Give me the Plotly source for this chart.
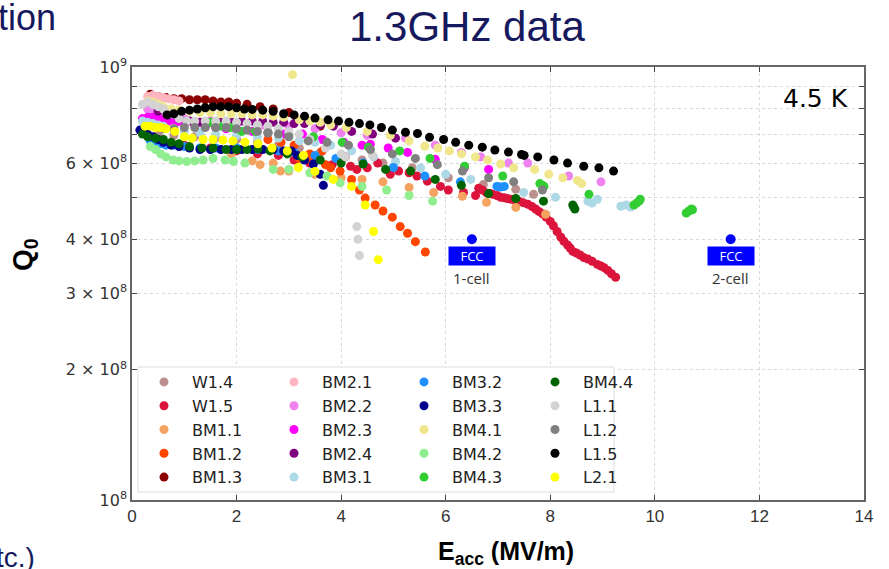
import numpy as np
import plotly.graph_objects as go

# ---- data (E_acc in MV/m, Q0) ----
NAMES = ["W1.4", "W1.5", "BM1.1", "BM1.2", "BM1.3",
         "BM2.1", "BM2.2", "BM2.3", "BM2.4", "BM3.1",
         "BM3.2", "BM3.3", "BM4.1", "BM4.2", "BM4.3",
         "BM4.4", "L1.1", "L1.2", "L1.5", "L2.1"]
COLORS = ["#bc8f8f", "#dc143c", "#f4a460", "#ff4500", "#8b0000",
          "#ffb6c1", "#ee82ee", "#ff00ff", "#800080", "#add8e6",
          "#1e90ff", "#00008b", "#f0e68c", "#90ee90", "#32cd32",
          "#006400", "#d3d3d3", "#808080", "#000000", "#ffff00"]

E_W14 = [0.5, 0.8, 1.2, 1.6, 2.0, 2.4, 2.8, 3.2, 3.6, 4.0, 4.4, 4.8, 5.36, 6.05, 6.72, 7.34, 7.68]
Q_W14 = [7.0e8, 6.95e8, 6.9e8, 6.85e8, 6.8e8, 6.7e8, 6.6e8, 6.5e8, 6.35e8, 6.2e8, 6.1e8, 6.0e8,
         5.85e8, 5.55e8, 5.35e8, 5.22e8, 5.08e8]

E_W15 = [1.0, 1.5, 2.0, 2.4, 2.8, 3.1, 3.4, 3.83, 4.08, 4.18, 4.3, 4.5, 4.7, 4.94, 5.1, 5.3, 5.45,
         5.65, 5.9, 6.05, 6.34, 6.57,
         6.63, 6.7, 6.78, 6.85, 6.9, 6.98, 7.05, 7.12, 7.18, 7.25, 7.32, 7.4, 7.48, 7.57, 7.65,
         7.72, 7.78, 7.85, 7.92, 8.0, 8.06, 8.13, 8.2, 8.26, 8.33, 8.38, 8.43, 8.5, 8.57, 8.64,
         8.72, 8.8, 8.9, 8.97, 9.03, 9.1, 9.17, 9.25]
Q_W15 = [6.6e8, 6.5e8, 6.4e8, 6.3e8, 6.25e8, 6.1e8, 6.0e8, 5.95e8, 6.2e8, 5.9e8, 5.8e8, 5.85e8,
         6.0e8, 5.65e8, 5.75e8, 5.7e8, 5.6e8, 5.45e8, 5.3e8, 5.2e8, 5.13e8, 5.05e8,
         5.25e8, 5.2e8, 5.12e8, 5.1e8, 5.08e8, 5.05e8, 5.0e8, 4.99e8, 4.97e8, 4.95e8, 4.93e8,
         4.9e8, 4.86e8, 4.82e8, 4.76e8, 4.7e8, 4.64e8, 4.58e8, 4.5e8, 4.4e8, 4.3e8, 4.17e8,
         4.05e8, 3.96e8, 3.88e8, 3.82e8, 3.75e8, 3.72e8, 3.68e8, 3.63e8, 3.6e8, 3.56e8, 3.5e8,
         3.47e8, 3.44e8, 3.39e8, 3.33e8, 3.27e8]

E_BM11 = [1.9, 2.3, 2.45, 2.7, 2.84, 3.0, 3.5, 4.0, 4.4, 4.8, 5.3, 5.77, 6.32, 6.78, 7.34, 7.91]
Q_BM11 = [6.3e8, 6.07e8, 5.95e8, 6.0e8, 5.75e8, 5.75e8, 5.65e8, 5.55e8, 5.5e8, 5.43e8, 5.27e8,
          5.13e8, 5.03e8, 4.87e8, 4.74e8, 4.57e8]

E_BM12 = [0.4, 0.5, 0.6, 2.6, 2.85, 3.1, 3.2, 3.4, 3.45, 3.64, 3.7, 3.8, 3.98, 4.2, 4.35, 4.46,
          4.65, 4.8, 4.98, 5.13, 5.27, 5.42, 5.61]
Q_BM12 = [7.6e8, 7.5e8, 7.45e8, 6.8e8, 6.7e8, 6.6e8, 6.15e8, 6.3e8, 6.05e8, 6.4e8, 5.95e8, 5.85e8,
          5.75e8, 5.5e8, 5.2e8, 4.98e8, 4.8e8, 4.65e8, 4.5e8, 4.28e8, 4.13e8, 3.95e8, 3.74e8]

E_BM13 = [0.35, 0.5, 0.65, 0.8, 0.95, 1.1, 1.25, 1.4, 1.55, 1.7, 1.85, 2.0, 2.2, 2.45, 2.7, 3.0, 3.3, 3.6]
Q_BM13 = [8.65e8, 8.55e8, 8.5e8, 8.45e8, 8.45e8, 8.4e8, 8.4e8, 8.4e8, 8.35e8, 8.3e8, 8.3e8,
          8.25e8, 8.2e8, 8.1e8, 8.0e8, 7.85e8, 7.6e8, 7.3e8]

E_BM21 = [0.3, 0.4, 0.5, 0.6, 0.7, 0.8, 0.9]
Q_BM21 = [8.55e8, 8.6e8, 8.55e8, 8.5e8, 8.45e8, 8.4e8, 8.35e8]

E_BM22 = [0.3, 0.4, 0.5, 0.6, 0.8, 1.0, 1.5, 2.0, 2.5, 3.0, 3.5, 4.0, 4.5, 5.23, 5.8, 6.3, 6.67,
          7.2, 7.57, 8.35, 8.97]
Q_BM22 = [8.0e8, 7.9e8, 7.8e8, 7.75e8, 7.7e8, 7.6e8, 7.5e8, 7.4e8, 7.35e8, 7.3e8, 7.2e8, 7.05e8,
          6.95e8, 6.85e8, 6.6e8, 6.35e8, 6.2e8, 6.0e8, 6.0e8, 5.6e8, 5.43e8]

E_BM23 = [0.2, 0.3, 0.4, 0.5, 0.6, 0.7, 0.85, 1.0, 1.2, 1.4, 1.6, 1.8, 2.0, 2.3, 2.6, 2.9, 3.26,
          3.64, 4.05, 4.4, 4.56, 4.9, 5.27, 5.8, 6.36, 6.82]
Q_BM23 = [7.6e8, 7.65e8, 7.65e8, 7.6e8, 7.55e8, 7.5e8, 7.45e8, 7.4e8, 7.35e8, 7.3e8, 7.25e8,
          7.2e8, 7.15e8, 7.1e8, 7.05e8, 7.0e8, 7.0e8, 6.8e8, 6.7e8, 6.6e8, 6.63e8, 6.5e8,
          6.35e8, 6.12e8, 5.86e8, 5.8e8]

E_BM24 = [0.5, 0.7, 0.9, 1.1, 1.3, 1.5, 1.7, 1.9, 2.1, 2.3, 2.5, 2.7, 2.9, 3.1, 3.3, 3.6, 3.85,
          4.2, 4.6, 5.04]
Q_BM24 = [7.9e8, 7.75e8, 7.6e8, 7.5e8, 7.45e8, 7.45e8, 7.45e8, 7.45e8, 7.5e8, 7.5e8, 7.5e8,
          7.45e8, 7.45e8, 7.4e8, 7.4e8, 7.35e8, 7.3e8, 7.1e8, 7.0e8, 6.85e8]

E_BM31 = [0.2, 0.3, 0.4, 0.5, 0.6, 0.8, 1.0, 1.3, 1.6, 2.0, 2.4, 2.8, 3.2, 3.5, 3.8, 4.2, 4.62,
          5.04, 5.52, 6.0, 6.48, 7.0, 7.49, 8.1, 8.72, 8.8, 8.9, 9.35, 9.45, 9.54]
Q_BM31 = [7.5e8, 7.45e8, 7.4e8, 7.35e8, 7.3e8, 7.2e8, 7.1e8, 7.05e8, 7.0e8, 6.95e8, 6.9e8,
          6.85e8, 6.75e8, 6.7e8, 6.6e8, 6.4e8, 6.2e8, 6.05e8, 5.85e8, 5.65e8, 5.5e8, 5.3e8,
          5.13e8, 5.0e8, 4.9e8, 4.85e8, 4.95e8, 4.77e8, 4.8e8, 4.75e8]

E_BM32 = [0.35, 0.45, 0.55, 0.65, 0.8, 1.0, 1.3, 1.6, 2.0, 2.4, 2.8, 3.1, 3.5, 3.9, 4.42, 5.0,
          5.6, 6.28, 6.98, 7.05, 7.12]
Q_BM32 = [6.75e8, 6.7e8, 6.65e8, 6.6e8, 6.6e8, 6.55e8, 6.5e8, 6.5e8, 6.5e8, 6.45e8, 6.4e8,
          6.35e8, 6.25e8, 6.15e8, 6.0e8, 5.86e8, 5.6e8, 5.43e8, 5.3e8, 5.28e8, 5.3e8]

E_BM33 = [0.15, 0.2, 0.3, 0.4, 0.5, 0.6, 0.75, 0.9, 1.1, 1.3, 1.5, 1.7, 1.9, 2.1, 2.3, 2.5, 2.7,
          2.9, 3.05, 3.16, 3.3, 3.47, 3.6, 3.66]
Q_BM33 = [7.15e8, 7.1e8, 7.0e8, 6.9e8, 6.8e8, 6.7e8, 6.6e8, 6.55e8, 6.5e8, 6.45e8, 6.45e8,
          6.45e8, 6.45e8, 6.45e8, 6.45e8, 6.45e8, 6.45e8, 6.4e8, 6.4e8, 6.25e8, 6.1e8, 5.97e8,
          5.65e8, 5.33e8]

E_BM41 = [0.3, 0.4, 0.5, 0.6, 0.75, 0.9, 1.1, 1.3, 1.5, 1.7, 1.9, 2.1, 2.3, 2.5, 2.7, 2.9, 3.07,
          3.2, 3.4, 3.6, 3.8, 4.1, 4.5, 4.94, 5.3, 5.6, 5.85, 6.07, 6.3, 6.57, 6.8, 7.05, 7.3,
          7.7, 7.97, 8.24, 8.52, 8.6]
Q_BM41 = [8.35e8, 8.3e8, 8.2e8, 8.1e8, 8.0e8, 7.95e8, 7.9e8, 7.85e8, 7.85e8, 7.8e8, 7.8e8,
          7.8e8, 7.75e8, 7.75e8, 7.7e8, 7.65e8, 9.6e8, 7.55e8, 7.5e8, 7.45e8, 7.35e8, 7.25e8,
          7.1e8, 6.95e8, 6.75e8, 6.56e8, 6.5e8, 6.4e8, 6.3e8, 6.2e8, 6.1e8, 5.97e8, 5.85e8,
          5.8e8, 5.65e8, 5.55e8, 5.47e8, 5.38e8]

E_BM42 = [0.35, 0.45, 0.55, 0.65, 0.79, 0.9, 1.05, 1.2, 1.36, 1.55, 1.78, 1.94, 2.16, 2.7, 3.0,
          3.4, 3.73, 3.98, 4.4, 4.87, 5.3, 5.75]
Q_BM42 = [6.55e8, 6.45e8, 6.3e8, 6.2e8, 6.1e8, 6.07e8, 6.05e8, 6.07e8, 6.1e8, 6.15e8, 6.1e8,
          6.05e8, 6.0e8, 5.8e8, 5.8e8, 5.7e8, 5.6e8, 5.4e8, 5.3e8, 5.2e8, 5.05e8, 4.9e8]

E_BM43 = [1.5, 1.7, 1.88, 2.1, 2.36, 2.6, 3.0, 3.47, 4.02, 4.52, 5.12, 5.7, 6.36, 7.09, 7.8,
          7.85, 7.88, 8.74, 9.6, 9.65, 9.7, 9.72, 10.6, 10.65, 10.7, 10.72]
Q_BM43 = [7.45e8, 7.3e8, 7.25e8, 7.1e8, 7.1e8, 7.05e8, 7.0e8, 6.9e8, 6.7e8, 6.53e8, 6.4e8,
          6.15e8, 5.9e8, 5.6e8, 5.38e8, 5.33e8, 5.3e8, 5.08e8, 4.8e8, 4.85e8, 4.9e8, 4.95e8,
          4.6e8, 4.65e8, 4.7e8, 4.68e8]

E_BM44 = [0.2, 0.3, 0.45, 0.6, 0.75, 0.9, 1.1, 1.34, 1.55, 1.8, 2.0, 2.2, 2.41, 2.64, 2.97,
          3.25, 3.6, 4.0, 4.42, 4.85, 5.33, 5.8, 6.3, 6.82, 7.34, 7.87, 8.43, 8.45, 8.47]
Q_BM44 = [7.0e8, 6.9e8, 6.85e8, 6.8e8, 6.7e8, 6.65e8, 6.55e8, 6.5e8, 6.5e8, 6.45e8, 6.45e8,
          6.45e8, 6.47e8, 6.4e8, 6.3e8, 6.2e8, 6.1e8, 6.0e8, 5.97e8, 5.8e8, 5.75e8, 5.5e8,
          5.33e8, 5.1e8, 4.97e8, 4.9e8, 4.8e8, 4.75e8, 4.7e8]

E_L11 = [0.2, 0.3, 0.4, 0.5, 0.6, 0.75, 0.9, 1.05, 1.2, 1.4, 1.6, 1.8, 2.0, 2.2, 2.4, 2.6, 2.8,
         3.0, 3.2, 3.4, 3.7, 4.0, 4.08, 4.3, 4.32, 4.35, 4.6]
Q_L11 = [8.2e8, 8.3e8, 8.2e8, 8.1e8, 8.0e8, 7.8e8, 7.6e8, 7.5e8, 7.5e8, 7.5e8, 7.5e8, 7.5e8,
         7.45e8, 7.4e8, 7.35e8, 7.3e8, 7.2e8, 7.1e8, 7.0e8, 6.8e8, 6.5e8, 6.3e8, 6.2e8, 4.28e8,
         4.0e8, 3.67e8, 6.25e8]

E_L12 = [0.6, 0.8, 1.0, 1.2, 1.4, 1.6, 1.8, 2.0, 2.2, 2.4, 2.6, 2.8, 3.0, 3.37, 3.73, 4.14, 4.56,
         4.98, 5.42, 5.84, 6.32, 6.82, 7.3, 7.85]
Q_L12 = [7.2e8, 7.2e8, 7.25e8, 7.25e8, 7.25e8, 7.25e8, 7.25e8, 7.2e8, 7.15e8, 7.1e8, 7.05e8,
         7.0e8, 6.9e8, 6.75e8, 6.7e8, 6.6e8, 6.45e8, 6.3e8, 6.15e8, 5.95e8, 5.75e8, 5.55e8,
         5.43e8, 5.2e8]

E_L15 = [0.67, 0.8, 0.95, 1.1, 1.25, 1.4, 1.55, 1.7, 1.85, 2.0, 2.15, 2.3, 2.5, 2.7, 2.9, 3.1,
         3.3, 3.5, 3.75, 3.95, 4.15, 4.35, 4.55, 4.77, 4.98, 5.23, 5.46, 5.69, 5.96, 6.19, 6.44,
         6.7, 6.94, 7.2, 7.45, 7.5, 7.76, 8.07, 8.33, 8.64, 8.93, 9.21]
Q_L15 = [7.75e8, 7.8e8, 7.9e8, 7.95e8, 8.0e8, 8.05e8, 8.1e8, 8.1e8, 8.1e8, 8.05e8, 8.0e8,
         7.98e8, 7.95e8, 7.9e8, 7.8e8, 7.75e8, 7.7e8, 7.62e8, 7.55e8, 7.5e8, 7.45e8, 7.4e8,
         7.35e8, 7.25e8, 7.15e8, 7.07e8, 7.02e8, 6.88e8, 6.8e8, 6.7e8, 6.6e8, 6.53e8, 6.43e8,
         6.36e8, 6.28e8, 6.25e8, 6.2e8, 6.1e8, 6.0e8, 5.9e8, 5.85e8, 5.75e8]

E_L21 = [0.25, 0.35, 0.45, 0.55, 0.65, 0.82, 1.0, 1.15, 1.36, 1.55, 1.74, 1.93, 2.16, 2.41, 2.68,
         2.97, 3.18, 3.28, 3.5, 3.85, 4.2, 4.46, 4.62, 4.71]
Q_L21 = [7.3e8, 7.3e8, 7.25e8, 7.25e8, 7.2e8, 7.1e8, 6.9e8, 6.85e8, 6.8e8, 6.8e8, 6.78e8,
         6.75e8, 6.7e8, 6.65e8, 6.5e8, 6.4e8, 5.86e8, 6.25e8, 5.74e8, 5.5e8, 5.3e8, 4.8e8,
         4.17e8, 3.59e8]

SERIES_E = [E_W14, E_W15, E_BM11, E_BM12, E_BM13, E_BM21, E_BM22, E_BM23, E_BM24, E_BM31,
            E_BM32, E_BM33, E_BM41, E_BM42, E_BM43, E_BM44, E_L11, E_L12, E_L15, E_L21]
SERIES_Q = [Q_W14, Q_W15, Q_BM11, Q_BM12, Q_BM13, Q_BM21, Q_BM22, Q_BM23, Q_BM24, Q_BM31,
            Q_BM32, Q_BM33, Q_BM41, Q_BM42, Q_BM43, Q_BM44, Q_L11, Q_L12, Q_L15, Q_L21]

# FCC targets
FCC_E = [6.5, 11.45]
FCC_Q = [4.0e8, 4.0e8]
FCC_LABELS = ["1-cell", "2-cell"]

Y_TICKS = [1e8, 2e8, 3e8, 4e8, 5e8, 6e8, 7e8, 8e8, 9e8, 1e9]
Y_TICKTEXT = ["10<sup>8</sup>", "2 × 10<sup>8</sup>", "3 × 10<sup>8</sup>", "4 × 10<sup>8</sup>",
              "", "6 × 10<sup>8</sup>", "", "", "", "10<sup>9</sup>"]
X_TICKS = [0, 2, 4, 6, 8, 10, 12, 14]

# ---- geometry helpers (plot area in px) ----
W, H = 889, 569
L, R, T, B = 132, 25, 67, 69
PW, PH = W - L - R, H - T - B


def px_x(px):
    return (px - L) / PW


def px_y(py):
    return (H - B - py) / PH


NAVY = "#17195e"
TXT = "#333333"

fig = go.Figure()

LEGEND_COL_X = [136, 266, 396, 527]
legend_ids = ["legend", "legend2", "legend3", "legend4"]

for i, name in enumerate(NAMES):
    fig.add_trace(go.Scatter(
        x=SERIES_E[i], y=SERIES_Q[i], name=name, mode="markers",
        marker=dict(color=COLORS[i], size=9, line=dict(width=0)),
        legend=legend_ids[i // 5],
    ))

fig.add_trace(go.Scatter(
    x=FCC_E, y=FCC_Q, mode="markers", showlegend=False,
    marker=dict(color="#0000ff", size=10, line=dict(width=0)),
))

legend_common = dict(
    bgcolor="rgba(0,0,0,0)", borderwidth=0,
    font=dict(family="DejaVu Sans", size=16, color="#222222"),
    itemwidth=46, tracegroupgap=0, xanchor="left", yanchor="top",
    y=px_y(365),
)
layout_legends = {}
for k, lid in enumerate(legend_ids):
    layout_legends[lid] = dict(legend_common, x=px_x(LEGEND_COL_X[k]))

annotations = []
for e, q, lab in zip(FCC_E, FCC_Q, FCC_LABELS):
    annotations.append(dict(
        x=e, y=np.log10(q), xref="x", yref="y", text="FCC", showarrow=False,
        yshift=-17, bgcolor="#0000ff", width=44, height=16, borderpad=1,
        font=dict(family="Open Sans", size=13, color="white"),
    ))
    annotations.append(dict(
        x=e, y=np.log10(q), xref="x", yref="y", text=lab, showarrow=False,
        yshift=-39, font=dict(family="Open Sans", size=15, color=TXT),
    ))


def paper_text(px, py, text, font, **kw):
    return dict(x=px_x(px), y=px_y(py), xref="paper", yref="paper", text=text,
                showarrow=False, xanchor=kw.pop("xanchor", "center"), yanchor="middle",
                font=font, **kw)


annotations += [
    paper_text(815, 98, "4.5 K", dict(family="DejaVu Sans", size=25, color="black")),
    paper_text(467, 27, "1.3GHz data", dict(family="Liberation Sans", size=42, color=NAVY)),
    paper_text(-4, 17, "tion", dict(family="Liberation Sans", size=36, color=NAVY),
               xanchor="left"),
    paper_text(-6, 557, "tc.)", dict(family="Liberation Sans", size=28, color=NAVY),
               xanchor="left"),
    paper_text(506, 553, "<b>E<sub>acc</sub> (MV/m)</b>",
               dict(family="Liberation Sans Narrow, Liberation Sans", size=25, color="black")),
    paper_text(24, 255, "<b>Q<sub>0</sub></b>",
               dict(family="Liberation Sans", size=28, color="black"), textangle=-90),
]

shapes = [dict(type="rect", xref="paper", yref="paper",
               x0=px_x(138), x1=px_x(614), y0=px_y(492), y1=px_y(367),
               fillcolor="white", line=dict(color="#dddddd", width=1), layer="above")]

axis_common = dict(
    showline=True, linecolor="#666666", linewidth=1.5, mirror="ticks",
    ticks="inside", ticklen=5, tickwidth=1, tickcolor="#444444",
    showgrid=True, gridcolor="#d9d9d9", gridwidth=1, griddash="dot",
    zeroline=False,
)

fig.update_layout(
    width=W, height=H,
    margin=dict(l=L, r=R, t=T, b=B, autoexpand=False),
    paper_bgcolor="white", plot_bgcolor="white",
    xaxis=dict(axis_common, range=[0, 14], tickvals=X_TICKS,
               tickfont=dict(family="Liberation Sans", size=17, color=TXT)),
    yaxis=dict(axis_common, type="log", range=[8, 9], tickvals=Y_TICKS, ticktext=Y_TICKTEXT,
               tickfont=dict(family="DejaVu Sans", size=16, color=TXT)),
    annotations=annotations,
    shapes=shapes,
    showlegend=True,
    **layout_legends,
)

# page body margin would shift the figure by 8px
fig.write_html("out.html", config={"displayModeBar": False},
               post_script="document.body.style.margin='0';")
